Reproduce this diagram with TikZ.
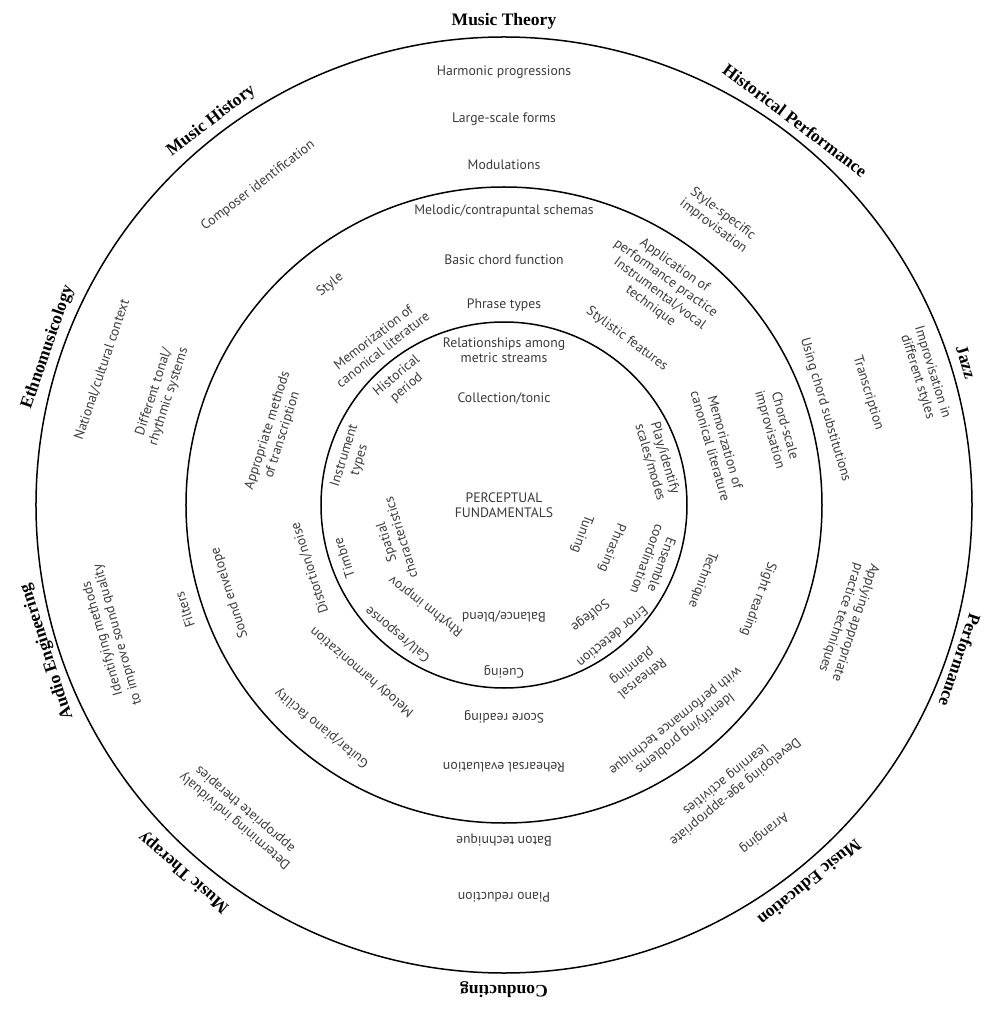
\documentclass[tikz,border=0pt]{standalone}
\usepackage{fontspec}
\setmainfont{Liberation Serif}
\newfontfamily\itemfont{PT Sans}
\usepackage{tikz}

\definecolor{itemgray}{HTML}{3A3A3A}

\begin{document}
\begin{tikzpicture}[x=1pt, y=1pt,
  item/.style={font=\itemfont\fontsize{13.7}{15.5}\selectfont, text=itemgray, align=center, inner sep=0pt},
  field/.style={font=\bfseries\fontsize{17.5}{20}\selectfont, inner sep=0pt},
  ring/.style={line width=1.5pt}]
\useasboundingbox (-504,-504) rectangle (496,505);

\draw[ring] (0,0) circle (468);
\draw[ring] (0,0) circle (318);
\draw[ring] (0,0) circle (183);

\node[field] (theory) at (90:484) {Music Theory};
\node[field, rotate=-37.1] (histperf) at (52.9:482.6) {Historical Performance};
\node[field, rotate=-72.8] (jazz) at (17.2:483.6) {Jazz};
\node[field, rotate=-108.8] (perf) at (-18.8:481.6) {Performance};
\node[field, rotate=-141] (edu) at (-51:486) {Music Education};
\node[field, rotate=180] (cond) at (270:485) {Conducting};
\node[field, rotate=138.9] (therapy) at (228.9:487) {Music Therapy};
\node[field, rotate=107.8] (audio) at (197.8:480) {Audio Engineering};
\node[field, rotate=70.9] (ethno) at (160.9:482.6) {Ethnomusicology};
\node[field, rotate=37.3] (history) at (127.3:483) {Music History};

\node[item] (harmprog) at (90:433) {Harmonic progressions};
\node[item] (forms) at (90:386) {Large-scale forms};
\node[item] (modul) at (90:340) {Modulations};
\node[item, rotate=37.6] (composer) at (127.6:403) {Composer identification};
\node[item, rotate=71.4] (national) at (161.4:424) {National/cultural context};
\node[item, rotate=72.1] (tonal) at (162.1:360) {Different tonal/\\rhythmic systems};
\node[item, rotate=106] (soundq) at (198.5:415) {Identifying methods\\to improve sound quality};
\node[item, rotate=108.2] (filters) at (198.2:336) {Filters};
\node[item, rotate=139.6] (therapies) at (229.6:407) {Determining individualy\\appropriate therapies};
\node[item, rotate=180] (pianored) at (270:392) {Piano reduction};
\node[item, rotate=180] (baton) at (270:335) {Baton technique};
\node[item, rotate=218.4] (arranging) at (308.4:418.5) {Arranging};
\node[item, rotate=218.9] (ageapp) at (308.9:360) {Developing age-appropriate\\learning activities};
\node[item, rotate=251.5] (applying) at (341.5:362.7) {Applying appropriate\\practice techniques};
\node[item, rotate=-73.5] (substit) at (16.5:335) {Using chord substitutions};
\node[item, rotate=-72.9] (transcr) at (17.1:381) {Transcription};
\node[item, rotate=-72.8] (improvstyles) at (17.2:440.6) {Improvisation in\\different styles};
\node[item, rotate=-36.9] (stylespec) at (53.1:356.4) {Style-specific\\improvisation};

\node[item] (schemas) at (90:294) {Melodic/contrapuntal schemas};
\node[item] (chordfn) at (90:245) {Basic chord function};
\node[item] (phrase) at (90:200) {Phrase types};
\node[item, rotate=38.3] (style) at (128.3:280.5) {Style};
\node[item, rotate=37.9] (memleft) at (127.9:205) {Memorization of\\canonical literature};
\node[item, rotate=72.5] (methods) at (162.5:240) {Appropriate methods\\of transcription};
\node[item, rotate=107.8] (envelope) at (197.8:288) {Sound envelope};
\node[item, rotate=108] (distortion) at (198:204) {Distortion/noise};
\node[item, rotate=139.6] (melharm) at (229.6:219) {Melody harmonization};
\node[item, rotate=140.8] (guitar) at (230.8:288) {Guitar/piano facility};
\node[item, rotate=180] (score) at (270:212) {Score reading};
\node[item, rotate=180] (rehevel) at (270:262) {Rehearsal evaluation};
\node[item, rotate=218.4] (problems) at (308.4:283) {Identifying problems\\with performance technique};
\node[item, rotate=218.5] (rehplan) at (308.5:213.5) {Rehearsal\\planning};
\node[item, rotate=249.3] (technique) at (339.3:212) {Technique};
\node[item, rotate=249.7] (sight) at (339.7:271) {Sight reading};
\node[item, rotate=-74.1] (memright) at (15.9:222.5) {Memorization of\\canonical literature};
\node[item, rotate=-74.2] (chordscale) at (15.8:283.6) {Chord-scale\\improvisation};
\node[item, rotate=-36.5] (stylistic) at (53.5:206.6) {Stylistic features};
\node[item, rotate=-36.4] (instrvocal) at (53.6:254.6) {Instrumental/vocal\\technique};
\node[item, rotate=-35.5] (perfpract) at (54.5:286) {Application of\\performance practice};

\node[item] (core) at (0,0) {PERCEPTUAL\\FUNDAMENTALS};
\node[item] (metric) at (90:155) {Relationships among\\metric streams};
\node[item] (tonic) at (90:106) {Collection/tonic};
\node[item, rotate=39.7] (period) at (129.7:160) {Historical\\period};
\node[item, rotate=72.8] (instrtypes) at (162.8:159) {Instrument\\types};
\node[item, rotate=108.3] (timbre) at (198.3:168.5) {Timbre};
\node[item, rotate=107.5] (spatial) at (197.5:116) {Spatial\\characteristics};
\node[item, rotate=142.3] (rhythm) at (232.3:127.6) {Rhythm improv};
\node[item, rotate=140.6] (callresp) at (230.6:167) {Call/response};
\node[item, rotate=180] (balance) at (270:111) {Balance/blend};
\node[item, rotate=180] (cueing) at (270:167) {Cueing};
\node[item, rotate=218] (solfege) at (308:139.6) {Solfege};
\node[item, rotate=219.5] (error) at (309.5:171) {Error detection};
\node[item, rotate=249.6] (tuning) at (339.6:83) {Tuning};
\node[item, rotate=248.3] (phrasing) at (338.3:116) {Phrasing};
\node[item, rotate=249.3] (ensemble) at (339.3:161) {Ensemble\\coordination};
\node[item, rotate=-73.7] (scales) at (16.3:160) {Play/identify\\scales/modes};
\end{tikzpicture}
\end{document}
